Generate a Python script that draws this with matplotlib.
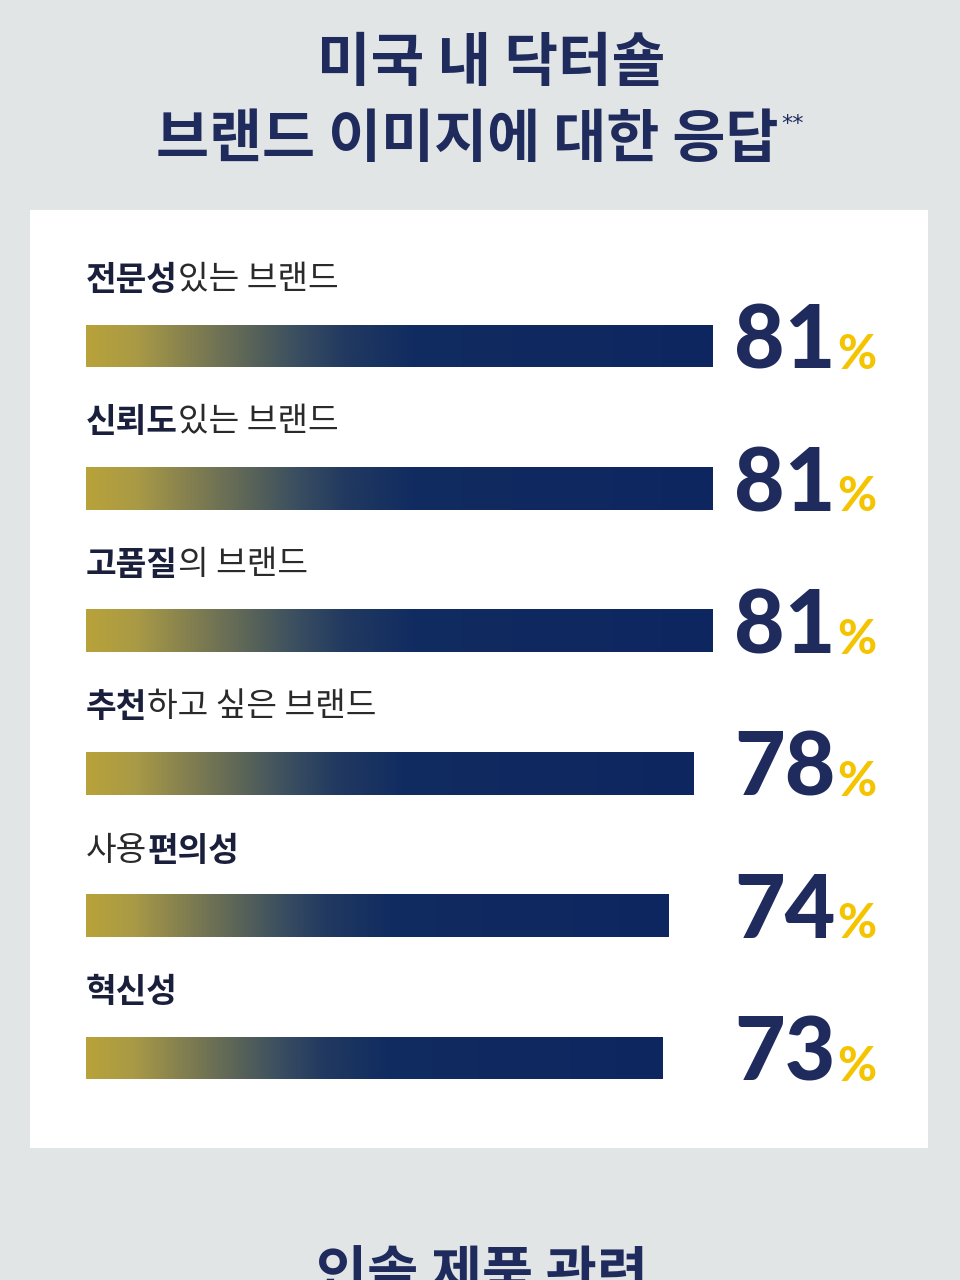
import numpy as np
import matplotlib.pyplot as plt
from matplotlib.colors import LinearSegmentedColormap

plt.rcParams['font.family'] = ['Noto Sans CJK KR', 'DejaVu Sans']

# chart data
title_lines = ["미국 내 닥터숄", "브랜드 이미지에 대한 응답"]
label_segments = [
    [("전문성", True), ("있는 브랜드", False)],
    [("신뢰도", True), ("있는 브랜드", False)],
    [("고품질", True), ("의 브랜드", False)],
    [("추천", True), ("하고 싶은 브랜드", False)],
    [("사용", False), ("편의성", True)],
    [("혁신성", True)],
]
values = [81, 81, 81, 78, 74, 73]
next_heading = "인솔 제품 관련"

NAVY = '#1f2b5c'
GOLD = '#f5c400'
BASE = -20  # bars start a bit left of zero in the original layout

fig = plt.figure(figsize=(9.6, 12.8), dpi=100)
fig.patch.set_facecolor('#e2e5e5')

# title
fig.text(491 / 960, 1 - 64 / 1280, title_lines[0], ha='center', va='center',
         fontsize=42, fontweight='heavy', color=NAVY)
t2 = fig.text(467 / 960, 1 - 140 / 1280, title_lines[1], ha='center', va='center',
              fontsize=41.5, fontweight='heavy', color=NAVY)
fig.canvas.draw()
bb = t2.get_window_extent()
fig.text(bb.x1 / fig.bbox.width + 0.003, 1 - 124 / 1280, "**", fontsize=16,
         color=NAVY, ha='left', va='center', family=['DejaVu Sans'])

# white panel with the bars
ax = fig.add_axes([30 / 960, 1 - 1148 / 1280, 898 / 960, 938 / 1280])
ax.set_facecolor('white')
for s in ax.spines.values():
    s.set_visible(False)
ax.set_xticks([])
ax.set_yticks([])

cmap = LinearSegmentedColormap.from_list('bar', [
    (0.0, '#b8a23a'), (0.08, '#a99a46'), (0.17, '#817e50'),
    (0.26, '#5a6458'), (0.33, '#3c5060'), (0.41, '#223a60'),
    (0.52, '#112c60'), (1.0, '#0e2660')])
grad = np.linspace(0, 1, 256).reshape(1, -1)

y = np.arange(len(values))
bars = ax.barh(y, np.array(values) - BASE, left=BASE, height=0.30,
               color='none', edgecolor='none')
for b in bars:
    x0, y0, w, h = b.get_x(), b.get_y(), b.get_width(), b.get_height()
    im = ax.imshow(grad, cmap=cmap, aspect='auto',
                   extent=(x0, x0 + w, y0 + h, y0), zorder=2)
    im.set_clip_path(b)

for i, (segs, v) in enumerate(zip(label_segments, values)):
    prev = None
    for text, bold in segs:
        kw = dict(fontsize=24, color='#1a1f3c' if bold else '#2a2a2a',
                  fontweight='bold' if bold else 'normal')
        if prev is None:
            prev = ax.text(BASE, i - 0.46, text, ha='left', va='center', **kw)
        else:
            prev = ax.annotate(text, xy=(1, 0), xycoords=prev,
                               ha='left', va='bottom', **kw)
    yb = i + 0.16
    ax.annotate(f"{v}", xy=(0.897, yb), xycoords=('axes fraction', 'data'),
                ha='right', va='baseline', fontsize=63, fontweight='black',
                color=NAVY, family=['Lato', 'DejaVu Sans'])
    ax.annotate("%", xy=(0.899, yb), xycoords=('axes fraction', 'data'),
                ha='left', va='baseline', fontsize=34, fontweight='black',
                color=GOLD, family=['Lato', 'DejaVu Sans'])

ax.set_xlim(BASE - 56 / 6.2, BASE + 842 / 6.2)
ax.set_ylim((1148 - 346) / 142.4, (210 - 346) / 142.4)

# start of the next section, cut off at the bottom
fig.text(482 / 960, 1 - 1292 / 1280, next_heading, ha='center', va='baseline',
         fontsize=40, fontweight='heavy', color=NAVY)

fig.savefig('out.png', dpi=100, facecolor=fig.get_facecolor())
